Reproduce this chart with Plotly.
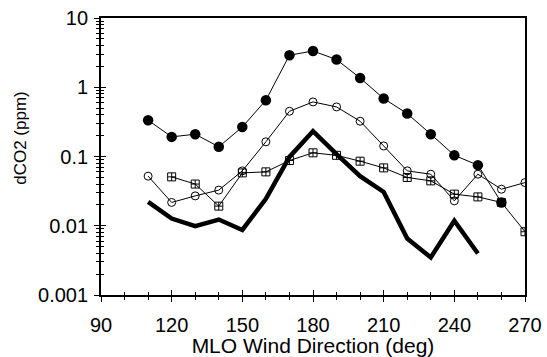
import plotly.graph_objects as go

# Wind direction (deg)
dir_filled = [110, 120, 130, 140, 150, 160, 170, 180, 190, 200, 210, 220, 230, 240, 250, 260]
val_filled = [0.334, 0.192, 0.21, 0.138, 0.267, 0.65, 2.9, 3.34, 2.51, 1.36, 0.687, 0.417, 0.21, 0.104, 0.075, 0.0217]

dir_open = [110, 120, 130, 140, 150, 160, 170, 180, 190, 200, 210, 220, 230, 240, 250, 260, 270]
val_open = [0.052, 0.0217, 0.027, 0.0327, 0.062, 0.163, 0.45, 0.614, 0.52, 0.323, 0.142, 0.062, 0.0555, 0.0229, 0.0555, 0.0337, 0.042]

dir_square = [120, 130, 140, 150, 160, 170, 180, 190, 200, 210, 220, 230, 240, 250, 260, 270]
val_square = [0.0508, 0.040, 0.0192, 0.058, 0.06, 0.0875, 0.113, 0.104, 0.0856, 0.0685, 0.0498, 0.0445, 0.0286, 0.0261, 0.0217, 0.0082]

dir_thick = [110, 120, 130, 140, 150, 160, 170, 180, 190, 200, 210, 220, 230, 240, 250]
val_thick = [0.0221, 0.0127, 0.00986, 0.0123, 0.0087, 0.0245, 0.0988, 0.232, 0.108, 0.052, 0.0308, 0.00656, 0.00349, 0.0118, 0.00398]

x_major = [90, 120, 150, 180, 210, 240, 270]
x_minor = list(range(90, 271, 10))
y_major = [0.001, 0.01, 0.1, 1, 10]
y_labels = ["0.001", "0.01", "0.1", "1", "10"]
y_minor = [m * 10 ** e for e in range(-3, 1) for m in range(2, 10)]

FONT = "Liberation Sans, Arial, sans-serif"

fig = go.Figure()
fig.add_trace(go.Scatter(x=dir_filled, y=val_filled, mode="lines+markers",
                         line=dict(color="black", width=1),
                         marker=dict(symbol="circle", size=10.5, color="black"),
                         showlegend=False, hoverinfo="skip"))
fig.add_trace(go.Scatter(x=dir_open, y=val_open, mode="lines+markers",
                         line=dict(color="black", width=1),
                         marker=dict(symbol="circle-open", size=8, color="black", line=dict(width=1)),
                         showlegend=False, hoverinfo="skip"))
fig.add_trace(go.Scatter(x=dir_square, y=val_square, mode="lines+markers",
                         line=dict(color="black", width=1),
                         marker=dict(symbol="square-cross-open", size=8, color="black", line=dict(width=1)),
                         xaxis="x2", yaxis="y",
                         showlegend=False, hoverinfo="skip"))
fig.add_trace(go.Scatter(x=dir_thick, y=val_thick, mode="lines",
                         line=dict(color="black", width=4.5),
                         xaxis="x", yaxis="y2",
                         showlegend=False, hoverinfo="skip"))

common_x = dict(range=[90, 270], showgrid=False, zeroline=False, automargin=False)
common_y = dict(type="log", range=[-3, 1], showgrid=False, zeroline=False, automargin=False)

fig.update_layout(
    template="none",
    width=547, height=357,
    margin=dict(l=101, r=22, t=18, b=62),
    paper_bgcolor="white", plot_bgcolor="rgba(0,0,0,0)",
    font=dict(family=FONT, size=20, color="black"),
    xaxis=dict(**common_x, tickmode="array", tickvals=x_major, ticktext=[str(v) for v in x_major],
               ticks="outside", ticklen=5, tickwidth=1.2, tickcolor="black",
               minor=dict(tickmode="array", tickvals=x_minor, ticks="outside", ticklen=3,
                          tickwidth=1, tickcolor="black"),
               showline=True, linecolor="black", linewidth=1.5, mirror=True,
               tickfont=dict(size=20), ticklabelstandoff=6,
               title=dict(text="MLO Wind Direction (deg)", font=dict(size=21), standoff=10)),
    yaxis=dict(**common_y, tickmode="array", tickvals=y_major, ticktext=y_labels,
               ticks="outside", ticklen=5, tickwidth=1.2, tickcolor="black",
               minor=dict(tickmode="array", tickvals=y_minor, ticks="outside", ticklen=3,
                          tickwidth=1, tickcolor="black"),
               showline=True, linecolor="black", linewidth=1.8, mirror=True,
               tickfont=dict(size=20), ticklabelstandoff=2),
    xaxis2=dict(**common_x, overlaying="x", anchor="y", side="bottom",
                tickmode="array", tickvals=x_major,
                ticks="inside", ticklen=5, tickwidth=1.2, tickcolor="black",
                minor=dict(tickmode="array", tickvals=x_minor, ticks="inside", ticklen=3,
                           tickwidth=1, tickcolor="black"),
                showticklabels=False, showline=False),
    yaxis2=dict(**common_y, overlaying="y", anchor="x", side="left",
                tickmode="array", tickvals=y_major,
                ticks="inside", ticklen=5, tickwidth=1.2, tickcolor="black",
                minor=dict(tickmode="array", tickvals=y_minor, ticks="inside", ticklen=3,
                           tickwidth=1, tickcolor="black"),
                showticklabels=False, showline=False),
    annotations=[dict(text="dCO2 (ppm)", textangle=-90, xref="paper", yref="paper",
                      x=-0.1887, y=0.5676, xanchor="center", yanchor="middle",
                      showarrow=False, font=dict(family=FONT, size=17, color="black"))],
)

fig.write_html("out.html")
